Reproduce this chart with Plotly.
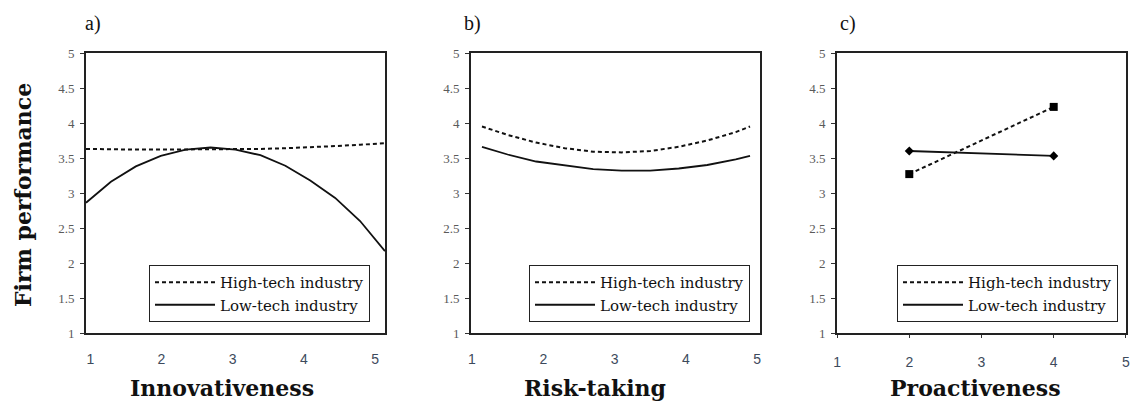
import plotly.graph_objects as go

W, H = 1134, 405

# ---------------- data ----------------
series_names = ["High-tech industry", "Low-tech industry"]

# a) Innovativeness
innov_x = [0.94, 1.29, 1.64, 1.99, 2.34, 2.69, 3.04, 3.39, 3.74, 4.09, 4.44, 4.79, 5.14]
innov_high = [3.63, 3.62, 3.62, 3.62, 3.62, 3.62, 3.63, 3.63, 3.64, 3.65, 3.67, 3.69, 3.71]
innov_low = [2.86, 3.16, 3.38, 3.53, 3.62, 3.65, 3.62, 3.54, 3.39, 3.18, 2.93, 2.60, 2.17]

# b) Risk-taking
risk_x = [1.14, 1.5, 1.9, 2.3, 2.7, 3.1, 3.5, 3.9, 4.3, 4.7, 4.9]
risk_high = [3.95, 3.83, 3.72, 3.64, 3.59, 3.58, 3.60, 3.66, 3.75, 3.87, 3.95]
risk_low = [3.66, 3.55, 3.45, 3.39, 3.34, 3.32, 3.32, 3.35, 3.40, 3.48, 3.53]

# c) Proactiveness
proact_x = [2, 4]
proact_high = [3.27, 4.23]
proact_low = [3.60, 3.53]

panel_labels = ["a)", "b)", "c)"]
x_titles = ["Innovativeness", "Risk-taking", "Proactiveness"]
y_title = "Firm performance"
x_ticks = [1, 2, 3, 4, 5]
y_ticks = [1, 1.5, 2, 2.5, 3, 3.5, 4, 4.5, 5]

# ---------------- layout helpers ----------------
def px_x(p):
    return p / W

def px_y(p):
    return 1 - p / H

plot_top, plot_bot = 53, 333
domains_x = [(86, 385), (471, 760), (837, 1126)]
x_ranges = [[0.94, 5.14], [0.986, 5.04], [0.999, 5.001]]
legend_right = [370, 750, 1118]
title_centers = [222, 595, 975]
label_left = [83, 462, 838]

fig = go.Figure()

dash_style = "4px,3px"
line_col = "#111111"

panels = [
    (innov_x, innov_high, innov_x, innov_low, False),
    (risk_x, risk_high, risk_x, risk_low, False),
    (proact_x, proact_high, proact_x, proact_low, True),
]

for i, (xh, yh, xl, yl, markers) in enumerate(panels):
    sfx = "" if i == 0 else str(i + 1)
    leg = "legend" if i == 0 else "legend" + str(i + 1)
    fig.add_trace(go.Scatter(x=xh, y=yh, mode="lines", name=series_names[0],
                             line=dict(color=line_col, width=2, dash=dash_style),
                             xaxis="x" + sfx, yaxis="y" + sfx, legend=leg))
    fig.add_trace(go.Scatter(x=xl, y=yl, mode="lines", name=series_names[1],
                             line=dict(color=line_col, width=1.8),
                             xaxis="x" + sfx, yaxis="y" + sfx, legend=leg))
    if markers:
        fig.add_trace(go.Scatter(x=xh, y=yh, mode="markers", showlegend=False,
                                 marker=dict(symbol="square", size=8, color="black"),
                                 xaxis="x" + sfx, yaxis="y" + sfx))
        fig.add_trace(go.Scatter(x=xl, y=yl, mode="markers", showlegend=False,
                                 marker=dict(symbol="diamond", size=7, color="black"),
                                 xaxis="x" + sfx, yaxis="y" + sfx))

layout = dict(
    width=W, height=H,
    margin=dict(l=0, r=0, t=0, b=0, autoexpand=False),
    paper_bgcolor="white", plot_bgcolor="white",
    showlegend=True,
)

annotations = []
for i in range(3):
    sfx = "" if i == 0 else str(i + 1)
    x0, x1 = domains_x[i]
    layout["xaxis" + sfx] = dict(
        domain=[px_x(x0), px_x(x1)], range=x_ranges[i],
        tickvals=x_ticks, ticktext=[str(t) for t in x_ticks],
        ticks="outside" if i == 2 else "", ticklen=3, tickcolor="#333",
        showgrid=False, zeroline=False, automargin=False,
        showline=True, linecolor="#222", linewidth=1.8, mirror=True,
        tickfont=dict(family="Liberation Sans", size=14, color="#3d4a5c"),
        ticklabelstandoff=12,
        anchor="y" + sfx, fixedrange=True,
    )
    layout["yaxis" + sfx] = dict(
        domain=[px_y(plot_bot), px_y(plot_top)], range=[1, 5],
        tickvals=y_ticks, ticktext=[("%g" % t) for t in y_ticks],
        ticks="outside", ticklen=4, tickcolor="#333",
        showgrid=False, zeroline=False, automargin=False,
        showline=True, linecolor="#222", linewidth=1.8, mirror=True,
        tickfont=dict(family="Liberation Serif", size=13, color="#5a5a5a"),
        ticklabelstandoff=3,
        anchor="x" + sfx, fixedrange=True,
    )
    leg = "legend" if i == 0 else "legend" + str(i + 1)
    layout[leg] = dict(
        x=px_x(legend_right[i]), xanchor="right",
        y=px_y(322), yanchor="bottom",
        bgcolor="white", bordercolor="#222", borderwidth=1,
        font=dict(family="DejaVu Serif", size=15, color="#111"),
        tracegroupgap=0, itemwidth=60,
    )
    annotations.append(dict(
        text=panel_labels[i], xref="paper", yref="paper",
        x=px_x(label_left[i]), y=px_y(23), xanchor="left", yanchor="middle",
        showarrow=False, font=dict(family="Liberation Serif", size=20, color="#111"),
    ))
    annotations.append(dict(
        text="<b>%s</b>" % x_titles[i], xref="paper", yref="paper",
        x=px_x(title_centers[i]), y=px_y(388), xanchor="center", yanchor="middle",
        showarrow=False, font=dict(family="DejaVu Serif", size=22, color="#111"),
    ))

annotations.append(dict(
    text="<b>%s</b>" % y_title, xref="paper", yref="paper",
    x=px_x(23), y=px_y(195), xanchor="center", yanchor="middle", textangle=-90,
    showarrow=False, font=dict(family="DejaVu Serif", size=22, color="#111"),
))
layout["annotations"] = annotations

fig.update_layout(**layout)
fig.write_html(
    "out.html",
    config={"displayModeBar": False, "staticPlot": True},
    post_script="document.body.style.margin='0px';document.body.style.overflow='hidden';",
)
